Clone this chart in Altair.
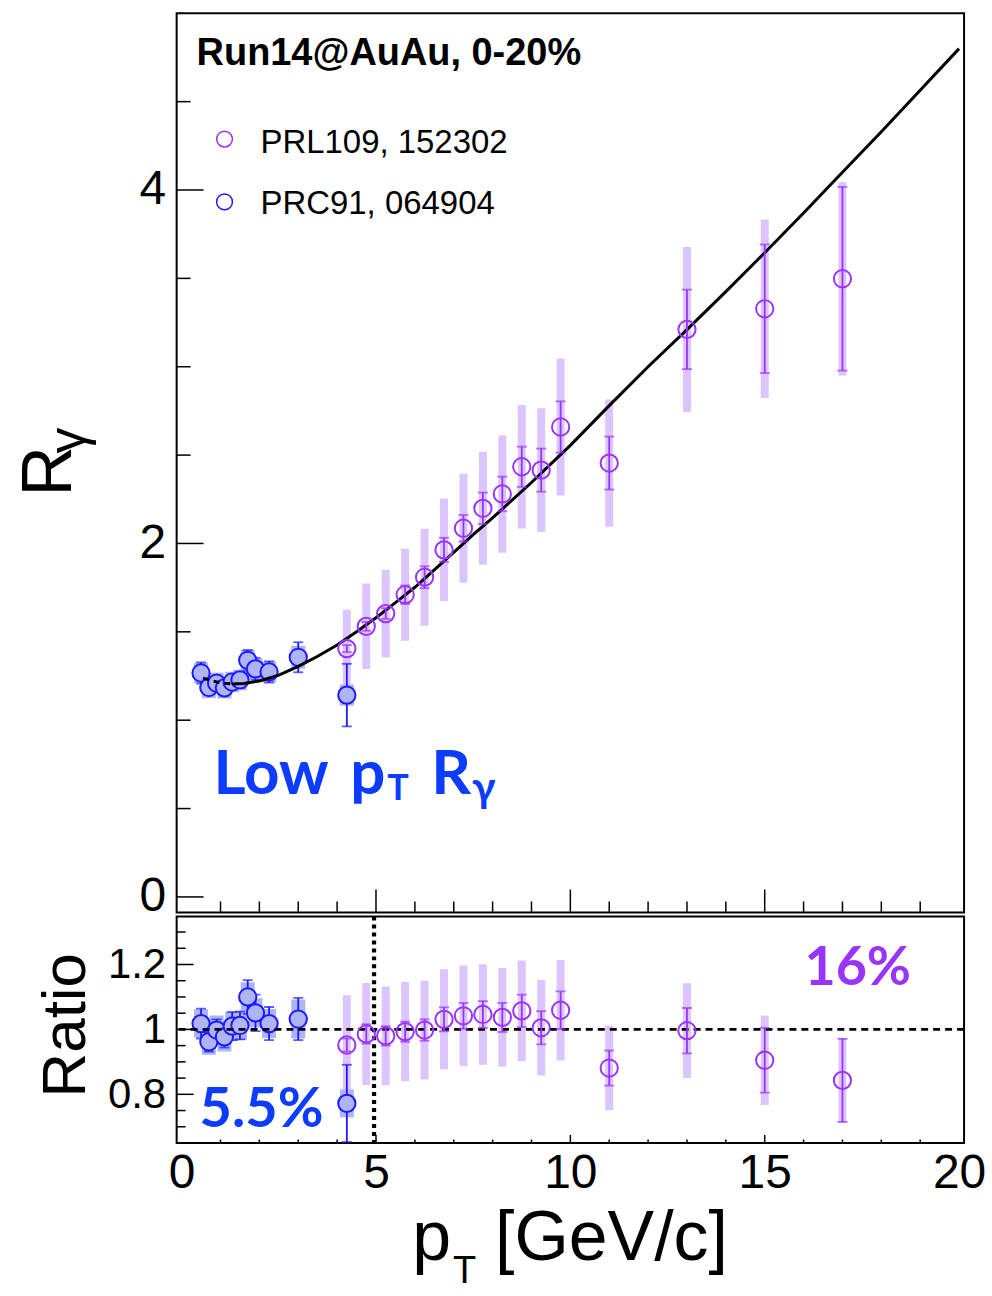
import altair as alt
import pandas as pd

# ---------------- data ----------------
# PRL109, 152302 (purple, open circles)
prl_pt = [4.25, 4.75, 5.25, 5.75, 6.25, 6.75, 7.25, 7.75, 8.25, 8.75, 9.25, 9.75, 11.0, 13.0, 15.0, 17.0]
prl_r = [1.405, 1.531, 1.603, 1.710, 1.809, 1.964, 2.086, 2.199, 2.280, 2.434, 2.415, 2.659, 2.455, 3.211, 3.328, 3.498]
prl_stat = [0.020, 0.025, 0.030, 0.052, 0.062, 0.068, 0.075, 0.089, 0.098, 0.114, 0.122, 0.145, 0.150, 0.225, 0.364, 0.520]
prl_sys = [0.220, 0.242, 0.248, 0.260, 0.274, 0.290, 0.308, 0.320, 0.332, 0.350, 0.350, 0.388, 0.360, 0.467, 0.505, 0.547]
prl_ratio = [0.952, 0.986, 0.980, 0.993, 0.998, 1.031, 1.042, 1.046, 1.037, 1.057, 1.005, 1.059, 0.881, 0.996, 0.905, 0.843]
prl_ratio_stat = [0.020, 0.030, 0.030, 0.031, 0.033, 0.037, 0.040, 0.041, 0.045, 0.050, 0.051, 0.058, 0.054, 0.070, 0.100, 0.128]
prl_ratio_sys = [0.153, 0.157, 0.152, 0.153, 0.152, 0.154, 0.155, 0.155, 0.152, 0.155, 0.147, 0.155, 0.130, 0.146, 0.138, 0.131]

# PRC91, 064904 (blue, filled circles)
prc_pt = [0.5, 0.7, 0.9, 1.1, 1.3, 1.5, 1.7, 1.9, 2.25, 3.0, 4.25]
prc_r = [1.267, 1.185, 1.209, 1.183, 1.216, 1.228, 1.339, 1.290, 1.273, 1.356, 1.142]
prc_stat = [0.060, 0.030, 0.030, 0.030, 0.035, 0.045, 0.058, 0.062, 0.060, 0.085, 0.177]
prc_sys = [0.058, 0.060, 0.060, 0.060, 0.058, 0.058, 0.060, 0.060, 0.060, 0.065, 0.060]
prc_ratio = [1.018, 0.962, 0.998, 0.977, 1.010, 1.012, 1.100, 1.051, 1.018, 1.032, 0.772]
prc_ratio_stat = [0.046, 0.030, 0.033, 0.033, 0.043, 0.043, 0.052, 0.056, 0.051, 0.065, 0.119]
prc_ratio_sys = [0.044, 0.040, 0.045, 0.045, 0.045, 0.045, 0.045, 0.045, 0.045, 0.060, 0.043]

# fit curve (black line)
curve_pt = [0.55, 0.8, 1.05, 1.3, 1.6, 2.0, 2.5, 3.0, 3.5, 4.0, 4.5, 5.0, 5.5, 6.0, 6.5, 7.0,
            7.5, 8.0, 8.5, 9.0, 9.5, 10.0, 11.0, 12.0, 13.0, 14.0, 15.0, 16.0, 17.0, 18.0, 19.0, 20.0]
curve_r = [1.238, 1.222, 1.210, 1.205, 1.208, 1.222, 1.255, 1.305, 1.362, 1.425, 1.500, 1.580, 1.665, 1.752, 1.850, 1.950,
           2.050, 2.145, 2.245, 2.345, 2.450, 2.555, 2.780, 3.000, 3.210, 3.425, 3.645, 3.870, 4.100, 4.330, 4.565, 4.800]
curve_dash_end = 1.3

# axis ticks
top_y_major = [0, 2, 4]
top_y_minor = [0.5, 1, 1.5, 2.5, 3, 3.5, 4.5]
x_major = [5, 10, 15]
x_minor = [1, 2, 3, 4, 6, 7, 8, 9, 11, 12, 13, 14, 16, 17, 18, 19]
ratio_y_major = [0.8, 1.0, 1.2]
ratio_y_minor = [0.7, 0.75, 0.85, 0.9, 0.95, 1.05, 1.1, 1.15, 1.25, 1.3]
x_labels = [0, 5, 10, 15, 20]
cut_pt = 4.95

# ---------------- styling ----------------
FONT = "Liberation Sans"
GEO = "Lato"
PURPLE = "#9933ff"
PURPLE_BOX = "#dcc5ff"
BLUE = "#1a1aff"
BLUE_BOX = "#aeb4f4"
TEXT_BLUE = "#0b3cff"
W, H_TOP, H_BOT = 789, 901, 227
MSIZE = 300

XS = alt.Scale(domain=[0, 20], nice=False, zero=False)
YS_TOP = alt.Scale(domain=[-0.088, 5.0], nice=False, zero=False)
YS_BOT = alt.Scale(domain=[0.65, 1.348], nice=False, zero=False)

AX_TOP_Y = alt.Axis(values=top_y_major, format="d", title=None, ticks=False, tickSize=0, domain=False,
                    grid=False, labelFont=FONT, labelFontSize=48, labelPadding=11, labelColor="black")
AX_BOT_Y = alt.Axis(values=ratio_y_major, format="~g", title=None, ticks=False, tickSize=0, domain=False,
                    grid=False, labelFont=FONT, labelFontSize=42, labelPadding=11, labelColor="black")
AX_BOT_X = alt.Axis(values=x_labels, format="d", title=None, ticks=False, tickSize=0, domain=False,
                    grid=False, labelFont=FONT, labelFontSize=48, labelPadding=7, labelFlush=False,
                    labelOverlap=False, labelColor="black")

ONE = pd.DataFrame({"k": [0]})


def xt(f="pt"):
    return alt.X(f"{f}:Q", scale=XS, axis=None)


def xb(f="pt"):
    return alt.X(f"{f}:Q", scale=XS, axis=AX_BOT_X)


def yt(f):
    return alt.Y(f"{f}:Q", scale=YS_TOP, axis=AX_TOP_Y)


def yb(f):
    return alt.Y(f"{f}:Q", scale=YS_BOT, axis=AX_BOT_Y)


def label(text, x, y, size, color="black", font=FONT, weight="normal", angle=0, align="left",
          baseline="alphabetic"):
    return alt.Chart(ONE).mark_text(text=text, fontSize=size, color=color, font=font, fontWeight=weight,
                                    angle=angle, align=align, baseline=baseline).encode(
        x=alt.value(x), y=alt.value(y))


def frame_df(pt, val, stat, sys):
    return pd.DataFrame({
        "pt": pt, "r": val,
        "lo": [v - s for v, s in zip(val, stat)], "hi": [v + s for v, s in zip(val, stat)],
        "slo": [v - s for v, s in zip(val, sys)], "shi": [v + s for v, s in zip(val, sys)],
    })


prl_top = frame_df(prl_pt, prl_r, prl_stat, prl_sys)
prc_top = frame_df(prc_pt, prc_r, prc_stat, prc_sys)
prl_bot = frame_df(prl_pt, prl_ratio, prl_ratio_stat, prl_ratio_sys)
prc_bot = frame_df(prc_pt, prc_ratio, prc_ratio_stat, prc_ratio_sys)
curve = pd.DataFrame({"pt": curve_pt, "r": curve_r})


def data_layers(df_prl, df_prc, X, Y, clip=False):
    layers = []
    layers.append(alt.Chart(df_prl).mark_bar(size=8, color=PURPLE_BOX, clip=clip).encode(
        x=X(), y=Y("slo"), y2=alt.Y2("shi")))
    layers.append(alt.Chart(df_prc).mark_bar(size=14, color=BLUE_BOX, clip=clip).encode(
        x=X(), y=Y("slo"), y2=alt.Y2("shi")))
    layers.append(alt.Chart(df_prc).mark_rule(color=BLUE, strokeWidth=1.8, clip=clip).encode(
        x=X(), y=Y("lo"), y2=alt.Y2("hi")))
    for f in ("lo", "hi"):
        layers.append(alt.Chart(df_prc).mark_tick(orient="horizontal", size=10, thickness=1.8, color=BLUE,
                                                  clip=clip).encode(x=X(), y=Y(f)))
    layers.append(alt.Chart(df_prc).mark_point(shape="circle", size=MSIZE, filled=True, fill=BLUE_BOX,
                                               stroke=BLUE, strokeWidth=2, opacity=1, clip=clip).encode(
        x=X(), y=Y("r")))
    return layers


def purple_layers(df_prl, X, Y, clip=False):
    layers = []
    layers.append(alt.Chart(df_prl).mark_rule(color=PURPLE, strokeWidth=1.8, clip=clip).encode(
        x=X(), y=Y("lo"), y2=alt.Y2("hi")))
    for f in ("lo", "hi"):
        layers.append(alt.Chart(df_prl).mark_tick(orient="horizontal", size=10, thickness=1.8, color=PURPLE,
                                                  clip=clip).encode(x=X(), y=Y(f)))
    layers.append(alt.Chart(df_prl).mark_point(shape="circle", size=MSIZE, filled=False, color=PURPLE,
                                               strokeWidth=2, opacity=1, clip=clip).encode(
        x=X(), y=Y("r")))
    return layers


def vticks(vals, Y, length):
    return alt.Chart(pd.DataFrame({"v": vals})).mark_rule(color="black", strokeWidth=1.5).encode(
        y=Y("v"), x=alt.value(0), x2=alt.value(length))


def hticks(vals, X, height, length):
    return alt.Chart(pd.DataFrame({"pt": vals})).mark_rule(color="black", strokeWidth=1.5).encode(
        x=X(), y=alt.value(height), y2=alt.value(height - length))


# ---------------- top panel ----------------
spacer_top = alt.Chart(ONE).mark_rect(opacity=0).encode(
    x=alt.value(-176), x2=alt.value(W + 27), y=alt.value(-11), y2=alt.value(0))

top_layers = [spacer_top,
              vticks(top_y_major, yt, 27), vticks(top_y_minor, yt, 14),
              hticks(x_major, xt, H_TOP, 23), hticks(x_minor, xt, H_TOP, 11)]
top_layers += data_layers(prl_top, prc_top, xt, yt)
top_layers.append(alt.Chart(curve[curve.pt <= curve_dash_end]).mark_line(
    color="black", strokeWidth=3, strokeDash=[6, 5]).encode(x=xt(), y=yt("r")))
top_layers.append(alt.Chart(curve[curve.pt >= curve_dash_end]).mark_line(
    color="black", strokeWidth=3).encode(x=xt(), y=yt("r")))
top_layers += purple_layers(prl_top, xt, yt)
# legend
top_layers.append(alt.Chart(ONE).mark_point(shape="circle", size=250, filled=False, color=PURPLE,
                                            strokeWidth=1.5, opacity=1).encode(x=alt.value(48), y=alt.value(126)))
top_layers.append(alt.Chart(ONE).mark_point(shape="circle", size=250, filled=False, color=BLUE,
                                            strokeWidth=1.5, opacity=1).encode(x=alt.value(48), y=alt.value(189)))
top_layers.append(label("PRL109, 152302", 84, 140, 33))
top_layers.append(label("PRC91, 064904", 84, 201, 33))
top_layers.append(label("Run14@AuAu, 0-20%", 20, 52, 38, weight="bold"))
# in-plot annotation
top_layers.append(label("Low", 37, 782, 62, color=TEXT_BLUE, font=GEO, weight="bold"))
top_layers.append(label("p", 174, 782, 62, color=TEXT_BLUE, font=GEO, weight="bold"))
top_layers.append(label("T", 211, 788, 36, color=TEXT_BLUE, font=GEO, weight="bold"))
top_layers.append(label("R", 255, 782, 62, color=TEXT_BLUE, font=GEO, weight="bold"))
top_layers.append(label("γ", 296, 790, 42, color=TEXT_BLUE, font=GEO, weight="bold"))
# y title R_gamma
top_layers.append(label("R", -106, 459, 70, angle=270, align="center"))
top_layers.append(label("γ", -92, 428, 52, angle=270, align="center"))

top = alt.layer(*top_layers).properties(width=W, height=H_TOP)

# ---------------- bottom (ratio) panel ----------------
spacer_bot = alt.Chart(ONE).mark_rect(opacity=0).encode(
    x=alt.value(-176), x2=alt.value(W + 27), y=alt.value(0), y2=alt.value(380))

bot_layers = [spacer_bot,
              vticks(ratio_y_major, yb, 17), vticks(ratio_y_minor, yb, 9),
              hticks(x_major, xb, H_BOT, 8), hticks(x_minor, xb, H_BOT, 3.5)]
bot_layers += data_layers(prl_bot, prc_bot, xb, yb, clip=True)
bot_layers.append(alt.Chart(pd.DataFrame({"v": [1.0]})).mark_rule(
    color="black", strokeWidth=2.6, strokeDash=[7, 5]).encode(y=yb("v")))
bot_layers.append(alt.Chart(pd.DataFrame({"pt": [cut_pt]})).mark_rule(
    color="black", strokeWidth=4.2, strokeDash=[4, 4]).encode(x=xb()))
bot_layers += purple_layers(prl_bot, xb, yb, clip=True)
bot_layers.append(label("16%", 629, 69, 54, color=PURPLE, font=GEO, weight="bold"))
bot_layers.append(label("5.5%", 23, 211, 56, color=TEXT_BLUE, font=GEO, weight="bold"))
bot_layers.append(label("Ratio", -92, 109, 62, angle=270, align="center"))
bot_layers.append(label("p", 236, 344, 70))
bot_layers.append(label("T", 277, 367, 38))
bot_layers.append(label("[GeV/c]", 319, 344, 70))

bottom = alt.layer(*bot_layers).properties(width=W, height=H_BOT)

chart = alt.vconcat(top, bottom, spacing=4, bounds="flush").properties(
    padding=0, background="white").configure_view(stroke="black", strokeWidth=2)

chart.save("out.html", embed_options={"renderer": "svg", "actions": False})
